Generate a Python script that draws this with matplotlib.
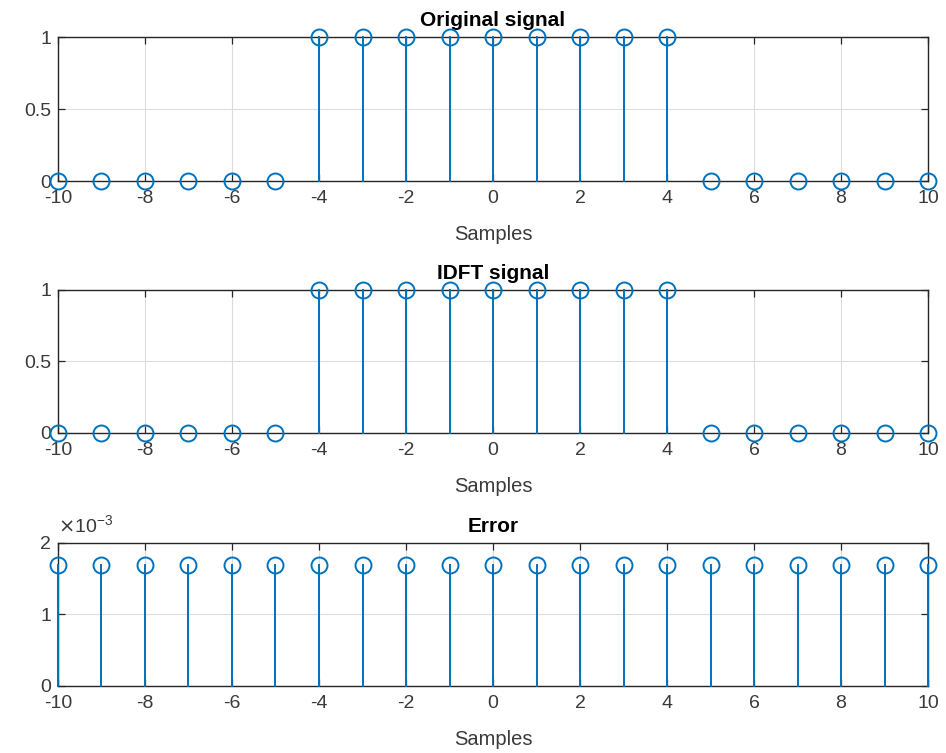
import numpy as np
import matplotlib
matplotlib.use("Agg")
import matplotlib.pyplot as plt
from matplotlib.ticker import FuncFormatter

plt.rcParams['font.family'] = ['Liberation Sans', 'DejaVu Sans']
plt.rcParams['axes.unicode_minus'] = False

# data
samples = list(range(-10, 11))
original = [0, 0, 0, 0, 0, 0, 1, 1, 1, 1, 1, 1, 1, 1, 1, 0, 0, 0, 0, 0, 0]
idft = [0, 0, 0, 0, 0, 0, 1, 1, 1, 1, 1, 1, 1, 1, 1, 0, 0, 0, 0, 0, 0]
error = [1.69e-3] * 21
titles = ['Original signal', 'IDFT signal', 'Error']

BLUE = '#0072BD'
AX_COL = '#262626'
TXT_COL = '#3a3a3a'

fig = plt.figure(figsize=(9.46, 7.53), dpi=100)
positions = [
    [0.0613, 0.7596, 0.9197, 0.1912],
    [0.0613, 0.4250, 0.9197, 0.1899],
    [0.0613, 0.0890, 0.9197, 0.1899],
]


def stem_panel(ax, x, y, title, yticks, ymax):
    for xi, yi in zip(x, y):
        ax.plot([xi, xi], [0, yi], color=BLUE, linewidth=1.4, clip_on=False, zorder=3)
    ax.plot(x, y, linestyle='none', marker='o', markersize=11.5, markerfacecolor='none',
            markeredgecolor=BLUE, markeredgewidth=1.4, clip_on=False, zorder=4)
    ax.set_xlim(-10, 10)
    ax.set_ylim(0, ymax)
    ax.set_xticks(range(-10, 11, 2))
    ax.set_yticks(yticks)
    ax.grid(True, color='#dcdcdc', linewidth=0.8)
    ax.set_axisbelow(True)
    ax.tick_params(direction='in', top=True, right=True, length=5, width=0.9,
                   colors=AX_COL, labelcolor=TXT_COL, labelsize=14)
    ax.tick_params(axis='x', pad=6.5)
    ax.tick_params(axis='y', pad=5)
    for s in ax.spines.values():
        s.set_color(AX_COL)
        s.set_linewidth(1.0)
    ax.set_xlabel('Samples', fontsize=14.5, color=TXT_COL, labelpad=13)
    ax.set_title(title, fontsize=15, fontweight='bold', color='black', pad=8)


for i, (pos, sig, title) in enumerate(zip(positions, [original, idft, error], titles)):
    ax = fig.add_axes(pos)
    if i < 2:
        stem_panel(ax, samples, sig, title, [0, 0.5, 1], 1)
        ax.yaxis.set_major_formatter(FuncFormatter(lambda v, p: f'{v:g}'))
    else:
        stem_panel(ax, samples, sig, title, [0, 1e-3, 2e-3], 2e-3)
        ax.yaxis.set_major_formatter(FuncFormatter(lambda v, p: f'{v * 1e3:g}'))
        ax.text(0.0, 1.05, r'$\times\mathregular{10^{-3}}$', transform=ax.transAxes,
                fontsize=14, color=TXT_COL, ha='left', va='bottom')

fig.savefig('out.png', dpi=100)
